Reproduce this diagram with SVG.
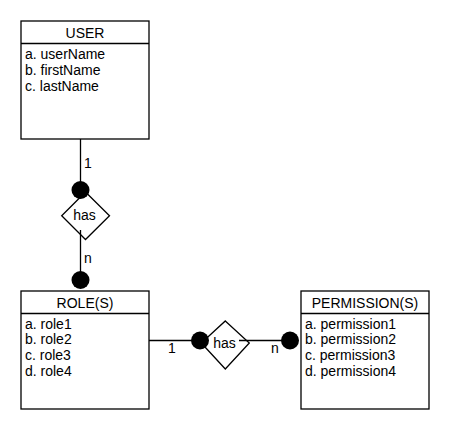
<svg xmlns="http://www.w3.org/2000/svg" width="450" height="430" viewBox="0 0 450 430">
<style>
.box{fill:#fff;stroke:#000;stroke-width:1.3}
.ln{stroke:#000;stroke-width:1.3;fill:none}
.dia{fill:#fff;stroke:#000;stroke-width:1.3}
.dot{fill:#000}
text{font-family:"Liberation Sans",Arial,sans-serif;font-size:14px;fill:#000}
.t{text-anchor:middle}
</style>
<rect width="450" height="430" fill="#fff"/>
<g id="has1">
<polygon class="dia" points="85.5,192 109.5,215.7 85.5,239.5 61.7,215.7"/>
<text class="t" x="84.5" y="220">has</text>
</g>
<g id="has2">
<polygon class="dia" points="225.3,321 249.3,343 225.3,369 201.3,343"/>
<text class="t" x="224.5" y="348">has</text>
</g>
<g id="connectors">
<line class="ln" x1="80.5" y1="139" x2="80.5" y2="190"/>
<line class="ln" x1="80.5" y1="230" x2="80.5" y2="280"/>
<line class="ln" x1="149" y1="340.5" x2="200" y2="340.5"/>
<line class="ln" x1="239" y1="340.5" x2="290" y2="340.5"/>
<circle class="dot" cx="80.5" cy="190" r="9"/>
<circle class="dot" cx="80.5" cy="280" r="9"/>
<circle class="dot" cx="200" cy="340.5" r="9"/>
<circle class="dot" cx="290" cy="340.5" r="9"/>
<text x="84" y="168">1</text>
<text x="84" y="263">n</text>
<text x="168" y="353">1</text>
<text x="271" y="353">n</text>
</g>
<g id="user">
<rect class="box" x="21" y="21" width="128" height="118"/>
<line class="ln" x1="21" y1="43.5" x2="149" y2="43.5"/>
<text class="t" x="85" y="38">USER</text>
<text x="25" y="58.5">a. userName</text>
<text x="25" y="74.5">b. firstName</text>
<text x="25" y="90.5">c. lastName</text>
</g>
<g id="roles">
<rect class="box" x="21" y="291" width="128" height="118"/>
<line class="ln" x1="21" y1="313.5" x2="149" y2="313.5"/>
<text class="t" x="85" y="308">ROLE(S)</text>
<text x="25" y="328.5">a. role1</text>
<text x="25" y="344.3">b. role2</text>
<text x="25" y="360">c. role3</text>
<text x="25" y="375.7">d. role4</text>
</g>
<g id="permissions">
<rect class="box" x="301" y="291" width="128" height="118"/>
<line class="ln" x1="301" y1="313.5" x2="429" y2="313.5"/>
<text class="t" x="365" y="308">PERMISSION(S)</text>
<text x="305" y="328.5">a. permission1</text>
<text x="305" y="344.3">b. permission2</text>
<text x="305" y="360">c. permission3</text>
<text x="305" y="375.7">d. permission4</text>
</g>
</svg>
